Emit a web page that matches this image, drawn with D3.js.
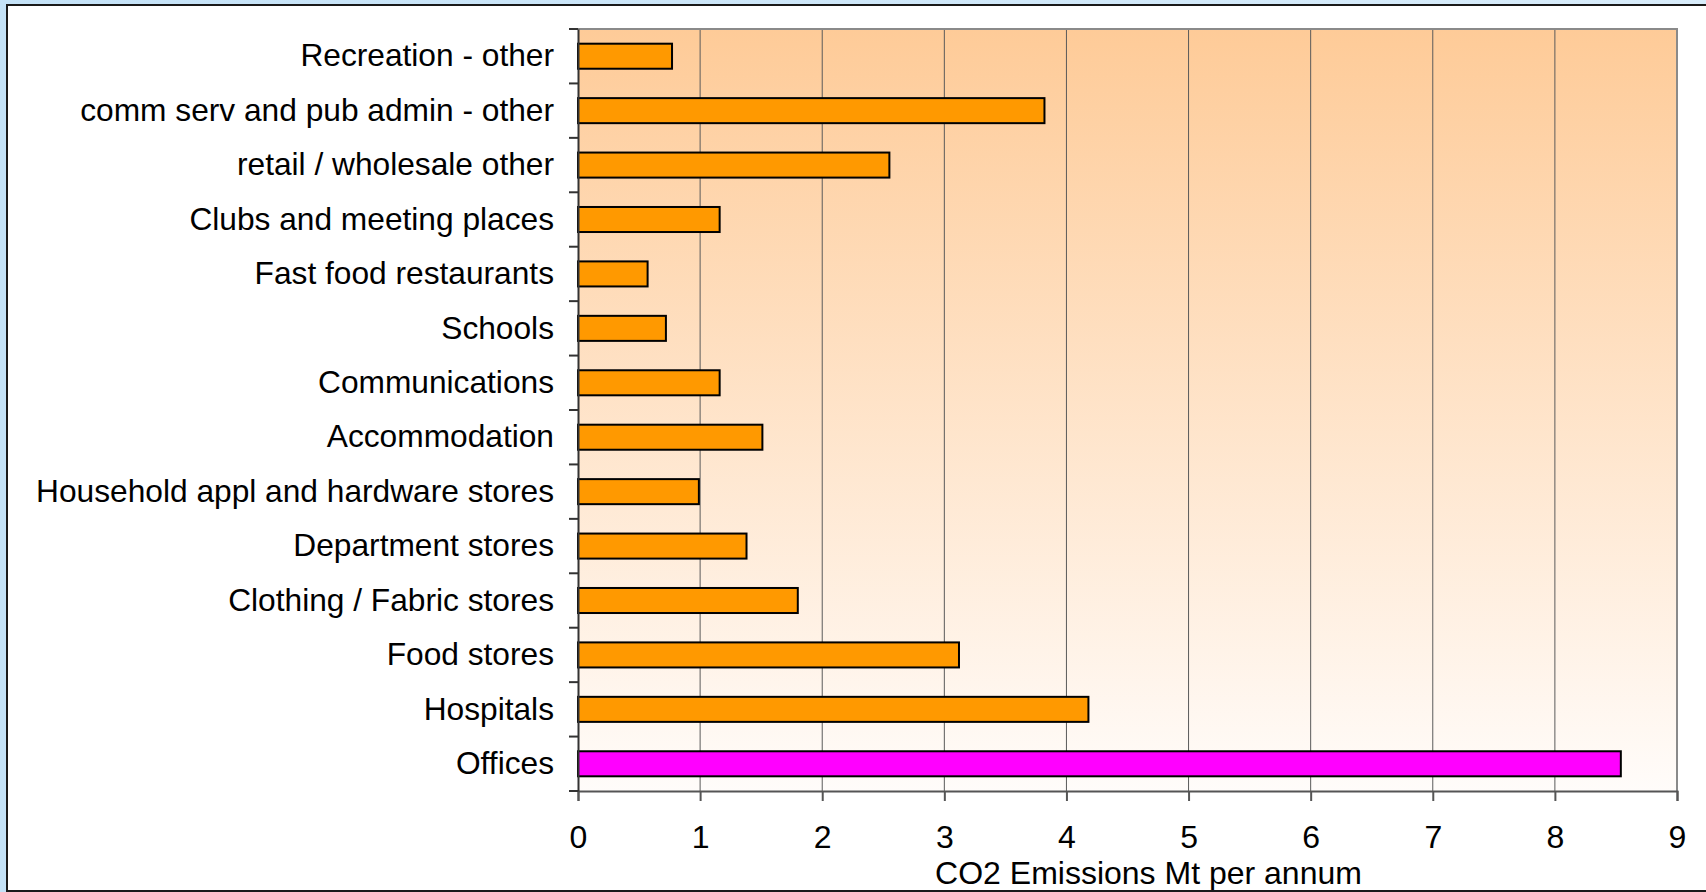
<!DOCTYPE html>
<html>
<head>
<meta charset="utf-8">
<script src="https://cdn.jsdelivr.net/npm/d3@7"></script>
<style>
  html, body { margin: 0; padding: 0; overflow: hidden; }
  body { width: 1706px; height: 892px; background: linear-gradient(90deg, #c4e2f7 0%, #d8ecfa 100%); }
  svg { display: block; }
  text { font-family: "Liberation Sans", Arial, sans-serif; fill: #000; }
</style>
</head>
<body>
<svg id="chart" width="1706" height="892"></svg>
<script>
const categories = [
  "Recreation - other",
  "comm serv and pub admin - other",
  "retail / wholesale other",
  "Clubs and meeting places",
  "Fast food restaurants",
  "Schools",
  "Communications",
  "Accommodation",
  "Household appl and hardware stores",
  "Department stores",
  "Clothing / Fabric stores",
  "Food stores",
  "Hospitals",
  "Offices"
];
const values = [0.77, 3.82, 2.55, 1.16, 0.57, 0.72, 1.16, 1.51, 0.99, 1.38, 1.80, 3.12, 4.18, 8.54];
const highlight = ["Offices"];
const xTicks = [0, 1, 2, 3, 4, 5, 6, 7, 8, 9];
const xTitle = "CO2 Emissions Mt per annum";

const svg = d3.select("#chart");

const defs = svg.append("defs");
const bg = defs.append("linearGradient").attr("id", "plotbg").attr("x1", 0).attr("y1", 0).attr("x2", 0).attr("y2", 1);
bg.append("stop").attr("offset", "0%").attr("stop-color", "#fecb98");
bg.append("stop").attr("offset", "100%").attr("stop-color", "#fffcfa");

svg.append("rect").attr("x", 7).attr("y", 5).attr("width", 1710).attr("height", 886)
  .attr("fill", "#ffffff").attr("stroke", "#1a1a1a").attr("stroke-width", 2);

const plot = { left: 578, right: 1677, top: 29, bottom: 791 };

const x = d3.scaleLinear().domain([0, 9]).range([plot.left, plot.right]);
const y = d3.scaleBand().domain(categories).range([plot.top, plot.bottom]).paddingInner(0.54).paddingOuter(0.27);

svg.append("rect").attr("x", plot.left).attr("y", plot.top)
  .attr("width", plot.right - plot.left).attr("height", plot.bottom - plot.top)
  .attr("fill", "url(#plotbg)");

svg.append("g").selectAll("line").data(xTicks.filter(d => d > 0 && d < 9)).join("line")
  .attr("x1", d => x(d)).attr("x2", d => x(d))
  .attr("y1", plot.top).attr("y2", plot.bottom)
  .attr("stroke", "#5a5a5a").attr("stroke-width", 1);

svg.append("path")
  .attr("d", `M${plot.left},${plot.top}H${plot.right}V${plot.bottom}`)
  .attr("fill", "none").attr("stroke", "#8a8a8a").attr("stroke-width", 2);

svg.append("g").selectAll("rect").data(categories).join("rect")
  .attr("x", x(0))
  .attr("y", d => y(d))
  .attr("width", (d, i) => x(values[i]) - x(0))
  .attr("height", y.bandwidth())
  .attr("fill", d => highlight.includes(d) ? "#ff00ff" : "#ff9900")
  .attr("stroke", "#000").attr("stroke-width", 2);

const xAxis = d3.axisBottom(x).tickValues(xTicks).tickFormat(d3.format("d")).tickSize(10).tickPadding(24);
const gx = svg.append("g").attr("transform", `translate(0,${plot.bottom})`).call(xAxis);
gx.select(".domain").attr("stroke", "#555").attr("stroke-width", 2);
gx.selectAll(".tick line").attr("stroke", "#555").attr("stroke-width", 2);
gx.selectAll(".tick text").attr("font-size", 32).attr("font-family", "Liberation Sans, Arial, sans-serif").attr("fill", "#000");

const yAxis = d3.axisLeft(y).tickSize(0).tickPadding(24);
const gy = svg.append("g").attr("transform", `translate(${plot.left},0)`).call(yAxis);
gy.select(".domain").attr("stroke", "#333").attr("stroke-width", 2);
gy.selectAll(".tick text").attr("font-size", 31.7).attr("font-family", "Liberation Sans, Arial, sans-serif").attr("fill", "#000");
const bounds = d3.range(categories.length + 1).map(i => plot.top + i * (plot.bottom - plot.top) / categories.length);
svg.append("g").selectAll("line").data(bounds).join("line")
  .attr("x1", plot.left - 9).attr("x2", plot.left)
  .attr("y1", d => d).attr("y2", d => d)
  .attr("stroke", "#333").attr("stroke-width", 2);

svg.append("text").attr("x", (x(0) + x(9)) / 2 + 21).attr("y", 884)
  .attr("text-anchor", "middle").attr("font-size", 32).text(xTitle);

svg.append("line").attr("x1", 7).attr("x2", 1706).attr("y1", 891).attr("y2", 891)
  .attr("stroke", "#1a1a1a").attr("stroke-width", 2);
</script>
</body>
</html>
